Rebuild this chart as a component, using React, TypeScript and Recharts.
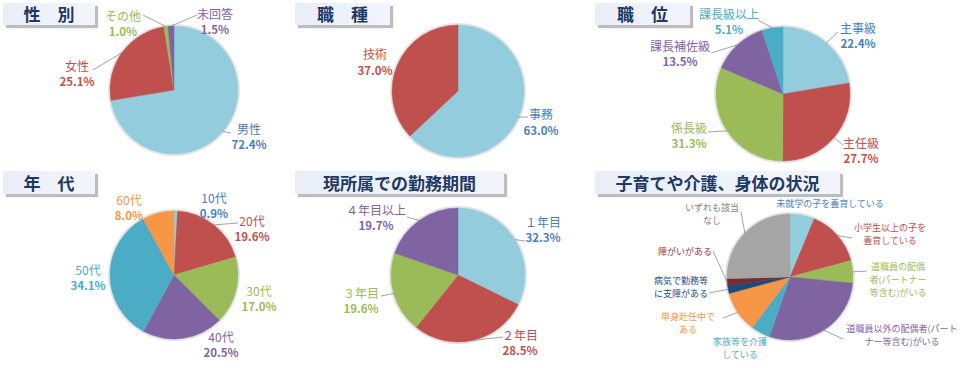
import React from 'react';
import { PieChart, Pie, Cell } from 'recharts';

// ---- data ----
const genderNames = ['男性', '女性', 'その他', '未回答'];
const genderValues = [72.4, 25.1, 1.0, 1.5];

const jobNames = ['事務', '技術'];
const jobValues = [63.0, 37.0];

const rankNames = ['主事級', '主任級', '係長級', '課長補佐級', '課長級以上'];
const rankValues = [22.4, 27.7, 31.3, 13.5, 5.1];

const ageNames = ['10代', '20代', '30代', '40代', '50代', '60代'];
const ageValues = [0.9, 19.6, 17.0, 20.5, 34.1, 8.0];

const tenureNames = ['１年目', '２年目', '３年目', '４年目以上'];
const tenureValues = [32.3, 28.5, 19.6, 19.7];

const careNames = [
  '未就学の子を養育している',
  '小学生以上の子を養育している',
  '道職員の配偶者(パートナー等含む)がいる',
  '道職員以外の配偶者(パートナー等含む)がいる',
  '家族等を介護している',
  '単身赴任中である',
  '病気で勤務等に支障がある',
  '障がいがある',
  'いずれも該当なし',
];
const careValues = [6.3, 14.5, 5.8, 28.7, 4.9, 10.6, 2.1, 1.7, 25.4];
// label text as wrapped in the original
const careLabelLines = [
  ['未就学の子を養育している'],
  ['小学生以上の子を', '養育している'],
  ['道職員の配偶', '者(パートナー', '等含む)がいる'],
  ['道職員以外の配偶者(パート', 'ナー等含む)がいる'],
  ['家族等を介護', 'している'],
  ['単身赴任中で', 'ある'],
  ['病気で勤務等', 'に支障がある'],
  ['障がいがある'],
  ['いずれも該当', 'なし'],
];

// ---- styles ----
const FONT = "'Noto Sans CJK JP', 'Noto Sans', sans-serif";
const LIGHTBLUE = '#93CDDD';
const RED = '#C0504D';
const GREEN = '#9BBB59';
const PURPLE = '#8064A2';
const AQUA = '#4BACC6';
const ORANGE = '#F79646';
const NAVY = '#1F497D';
const DARKRED = '#772C2A';
const GRAY = '#A5A5A5';
const BLUE_TEXT = '#4A7EBB';

type Spot = { x: number; y: number; lx?: number; ly?: number };

interface LabelCfg {
  lines: string[][];
  values?: number[];
  colors: string[];
  spots: Spot[];
  fontSize: number;
  lineGap: number;
}

const makeLabel = (cfg: LabelCfg) => (props: any) => {
  const { cx, cy, midAngle, outerRadius, index } = props;
  const spot = cfg.spots[index];
  const tx = cx + spot.x;
  const ty = cy + spot.y;
  let leader = null;
  if (spot.lx !== undefined && spot.ly !== undefined) {
    const rad = (-midAngle * Math.PI) / 180;
    const ex = cx + outerRadius * Math.cos(rad);
    const ey = cy + outerRadius * Math.sin(rad);
    leader = (
      <polyline
        points={`${cx + spot.lx},${cy + spot.ly} ${ex},${ey}`}
        fill="none"
        stroke="#8C8C8C"
        strokeWidth={0.8}
      />
    );
  }
  const lines = cfg.lines[index];
  return (
    <g>
      {leader}
      <text fill={cfg.colors[index]} fontFamily={FONT} textAnchor="middle" dominantBaseline="central">
        {lines.map((l, i) => (
          <tspan key={i} x={tx} y={ty + i * cfg.lineGap} fontSize={cfg.fontSize}>
            {l}
          </tspan>
        ))}
        {cfg.values && (
          <tspan x={tx} y={ty + lines.length * cfg.lineGap} fontSize={cfg.fontSize - 0.5} fontWeight="bold">
            {cfg.values[index].toFixed(1)}%
          </tspan>
        )}
      </text>
    </g>
  );
};

const toRows = (names: string[], values: number[]) => names.map((name, i) => ({ name, value: values[i] }));

interface PieBlockProps {
  names: string[];
  values: number[];
  fills: string[];
  cx: number;
  cy: number;
  r: number;
  label: LabelCfg;
}

const pieBlock = ({ names, values, fills, cx, cy, r, label }: PieBlockProps, key: string) => [
  <Pie
    key={key + '-glow'}
    data={[{ name: 'bg', value: 1 }]}
    dataKey="value"
    cx={cx}
    cy={cy}
    outerRadius={r + 2}
    fill="#E4E4E4"
    stroke="none"
    isAnimationActive={false}
  />,
  <Pie
    key={key}
    data={toRows(names, values)}
    dataKey="value"
    cx={cx}
    cy={cy}
    outerRadius={r}
    startAngle={90}
    endAngle={-270}
    isAnimationActive={false}
    labelLine={false}
    label={makeLabel(label)}
  >
    {names.map((n, i) => (
      <Cell key={n} fill={fills[i]} stroke={fills[i]} strokeWidth={0.5} />
    ))}
  </Pie>,
];

const one = (arr: string[]) => arr.map((n) => [n]);

const TitleBox: React.FC<{ text: string; left: number; top: number; width: number; height: number }> = ({
  text,
  left,
  top,
  width,
  height,
}) => (
  <div
    style={{
      position: 'absolute',
      left,
      top,
      width,
      height,
      background: 'linear-gradient(90deg, #E9EEF7 0%, #F2F5FB 100%)',
      boxShadow: '3px 3px 1px #BDBDBD',
      color: '#1F3864',
      fontFamily: FONT,
      fontWeight: 700,
      fontSize: 17,
      lineHeight: `${height}px`,
      textAlign: 'center',
      whiteSpace: 'nowrap',
    }}
  >
    {text}
  </div>
);

export default function App() {
  const blocks: PieBlockProps[] = [
    {
      names: genderNames,
      values: genderValues,
      fills: [LIGHTBLUE, RED, GREEN, PURPLE],
      cx: 174,
      cy: 90,
      r: 64,
      label: {
        lines: one(genderNames),
        values: genderValues,
        colors: [BLUE_TEXT, RED, GREEN, PURPLE],
        spots: [
          { x: 75, y: 38, lx: 57, ly: 43 },
          { x: -97, y: -25, lx: -81, ly: -20 },
          { x: -51, y: -75, lx: -31, ly: -75 },
          { x: 41, y: -77, lx: 23, ly: -75 },
        ],
        fontSize: 12,
        lineGap: 16,
      },
    },
    {
      names: jobNames,
      values: jobValues,
      fills: [LIGHTBLUE, RED],
      cx: 458,
      cy: 91,
      r: 66,
      label: {
        lines: one(jobNames),
        values: jobValues,
        colors: [BLUE_TEXT, RED],
        spots: [
          { x: 83, y: 22, lx: 70, ly: 26 },
          { x: -83, y: -38 },
        ],
        fontSize: 12,
        lineGap: 17,
      },
    },
    {
      names: rankNames,
      values: rankValues,
      fills: [LIGHTBLUE, RED, GREEN, PURPLE, AQUA],
      cx: 783,
      cy: 94,
      r: 67,
      label: {
        lines: one(rankNames),
        values: rankValues,
        colors: [BLUE_TEXT, RED, GREEN, PURPLE, AQUA],
        spots: [
          { x: 75, y: -67, lx: 55, ly: -62 },
          { x: 78, y: 48, lx: 60, ly: 51 },
          { x: -94, y: 33, lx: -75, ly: 38 },
          { x: -103, y: -49, lx: -72, ly: -41 },
          { x: -54, y: -81, lx: -25, ly: -74 },
        ],
        fontSize: 12,
        lineGap: 16,
      },
    },
    {
      names: ageNames,
      values: ageValues,
      fills: [LIGHTBLUE, RED, GREEN, PURPLE, AQUA, ORANGE],
      cx: 174,
      cy: 275,
      r: 64,
      label: {
        lines: one(ageNames),
        values: ageValues,
        colors: [BLUE_TEXT, RED, GREEN, PURPLE, AQUA, ORANGE],
        spots: [
          { x: 40, y: -78 },
          { x: 78, y: -55, lx: 64, ly: -52 },
          { x: 85, y: 15 },
          { x: 47, y: 61 },
          { x: -86, y: -6 },
          { x: -45, y: -76 },
        ],
        fontSize: 12,
        lineGap: 16,
      },
    },
    {
      names: tenureNames,
      values: tenureValues,
      fills: [LIGHTBLUE, RED, GREEN, PURPLE],
      cx: 458,
      cy: 275,
      r: 67,
      label: {
        lines: one(tenureNames),
        values: tenureValues,
        colors: [BLUE_TEXT, RED, GREEN, PURPLE],
        spots: [
          { x: 85, y: -54, lx: 67, ly: -34 },
          { x: 62, y: 59, lx: 45, ly: 62 },
          { x: -97, y: 17, lx: -77, ly: 21 },
          { x: -82, y: -66, lx: -51, ly: -58 },
        ],
        fontSize: 12,
        lineGap: 16,
      },
    },
    {
      names: careNames,
      values: careValues,
      fills: [LIGHTBLUE, RED, GREEN, PURPLE, AQUA, ORANGE, NAVY, DARKRED, GRAY],
      cx: 790,
      cy: 277,
      r: 63,
      label: {
        lines: careLabelLines,
        colors: [BLUE_TEXT, RED, GREEN, PURPLE, AQUA, ORANGE, NAVY, '#953735', '#7F7F7F'],
        spots: [
          { x: 40, y: -74 },
          { x: 100, y: -50, lx: 62, ly: -39 },
          { x: 108, y: -11, lx: 77, ly: -6 },
          { x: 112, y: 51, lx: 53, ly: 62 },
          { x: -50, y: 64 },
          { x: -102, y: 39, lx: -67, ly: 41 },
          { x: -109, y: 3, lx: -81, ly: 16 },
          { x: -105, y: -26, lx: -77, ly: -26 },
          { x: -78, y: -70, lx: -49, ly: -65 },
        ],
        fontSize: 9,
        lineGap: 13,
      },
    },
  ];

  return (
    <div style={{ position: 'absolute', left: 0, top: 0, width: 972, height: 368, background: '#fff' }}>
      <PieChart width={972} height={368} margin={{ top: 0, right: 0, bottom: 0, left: 0 }}>
        {blocks.flatMap((b, i) => pieBlock(b, 'pie' + i))}
      </PieChart>
      <TitleBox text="性　別" left={3} top={3} width={92} height={22} />
      <TitleBox text="職　種" left={295} top={3} width={95} height={22} />
      <TitleBox text="職　位" left={595} top={3} width={95} height={22} />
      <TitleBox text="年　代" left={3} top={171} width={92} height={23} />
      <TitleBox text="現所属での勤務期間" left={295} top={171} width={209} height={23} />
      <TitleBox text="子育てや介護、身体の状況" left={595} top={171} width={245} height={23} />
    </div>
  );
}
